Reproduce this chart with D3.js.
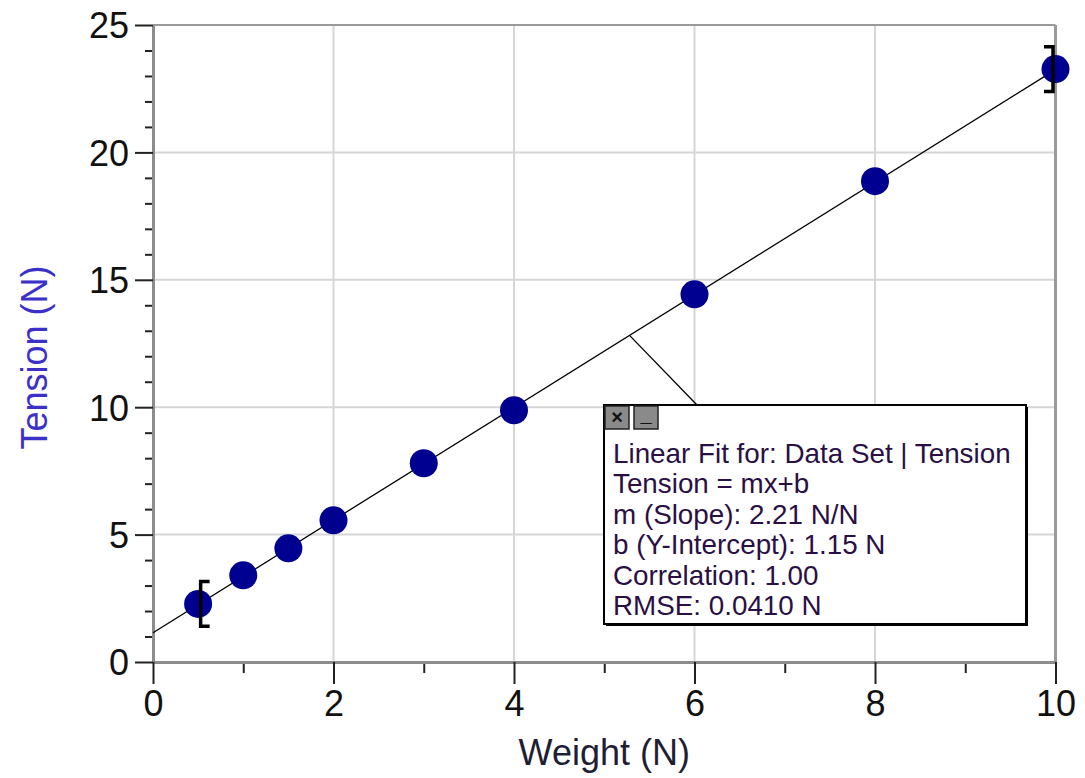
<!DOCTYPE html>
<html>
<head>
<meta charset="utf-8">
<script src="https://cdn.jsdelivr.net/npm/d3@7"></script>
<style>
	body { margin: 0; background: #fff; }
	text { font-family: "Liberation Sans", Arial, sans-serif; }
</style>
</head>
<body>
<script>

let width = 1085;
let height = 778;

let margins = {
	top: 25,
	right: 29,
	bottom: 116,
	left: 153
};

// data
let weights = [0.5, 1, 1.5, 2, 3, 4, 6, 8, 10];
let tensions = [2.28, 3.40, 4.46, 5.56, 7.80, 9.88, 14.43, 18.87, 23.27];
let errorPoints = [0, 8];
let errorSize = 0.88;

let fitSlope = 2.21;
let fitIntercept = 1.15;
let fitAnchorX = 5.28;

let xTicks = [0, 2, 4, 6, 8, 10];
let xMinor = [1, 3, 5, 7, 9];
let yTicks = [0, 5, 10, 15, 20, 25];
let yMinor = [1, 2, 3, 4, 6, 7, 8, 9, 11, 12, 13, 14, 16, 17, 18, 19, 21, 22, 23, 24];

let fitText = [
	"Linear Fit for: Data Set | Tension",
	"Tension = mx+b",
	"m (Slope): 2.21 N/N",
	"b (Y-Intercept): 1.15 N",
	"Correlation: 1.00",
	"RMSE: 0.0410 N"
];

let xScale = d3.scaleLinear()
	.range([margins.left, width - margins.right - 0.5])
	.domain([0, 10]);

let yScale = d3.scaleLinear()
	.range([height - margins.bottom, margins.top])
	.domain([0, 25]);

let svg = d3.select("body")
	.append("svg")
		.attr("width", width)
		.attr("height", height);

let x0 = xScale(0), x1 = xScale(10);
let y0 = yScale(0), y1 = yScale(25);

// grid
svg.append("g")
	.selectAll("line")
	.data(xTicks.slice(1, -1))
	.enter().append("line")
		.attr("x1", d => xScale(d)).attr("x2", d => xScale(d))
		.attr("y1", y1).attr("y2", y0)
		.style("stroke", "#d6d6d6").style("stroke-width", 2);

svg.append("g")
	.selectAll("line")
	.data(yTicks.slice(1, -1))
	.enter().append("line")
		.attr("x1", x0).attr("x2", x1)
		.attr("y1", d => yScale(d)).attr("y2", d => yScale(d))
		.style("stroke", "#d6d6d6").style("stroke-width", 2);

// frame top and right
svg.append("line")
	.attr("x1", x0).attr("x2", x1).attr("y1", y1).attr("y2", y1)
	.style("stroke", "#9a9a9a").style("stroke-width", 2);
svg.append("line")
	.attr("x1", x1).attr("x2", x1).attr("y1", y1).attr("y2", y0)
	.style("stroke", "#9a9a9a").style("stroke-width", 3);

// minor ticks
svg.append("g")
	.attr("transform", "translate(" + x0 + ",0)")
	.call(d3.axisLeft(yScale).tickValues(yMinor).tickSize(8).tickFormat(""))
	.call(g => g.select(".domain").remove())
	.selectAll("line").style("stroke", "#222").style("stroke-width", 2);

svg.append("g")
	.attr("transform", "translate(0," + y0 + ")")
	.call(d3.axisBottom(xScale).tickValues(xMinor).tickSize(11).tickFormat(""))
	.call(g => g.select(".domain").remove())
	.selectAll("line").style("stroke", "#222").style("stroke-width", 2);

// major axes
let yAxis = svg.append("g")
	.attr("transform", "translate(" + x0 + ",0)")
	.call(d3.axisLeft(yScale).tickValues(yTicks).tickSize(18).tickPadding(6).tickSizeOuter(0));

let xAxis = svg.append("g")
	.attr("transform", "translate(0," + y0 + ")")
	.call(d3.axisBottom(xScale).tickValues(xTicks).tickSize(22).tickPadding(6).tickSizeOuter(0));

[xAxis, yAxis].forEach(g => {
	g.select(".domain").style("stroke", "#8c8c8c").style("stroke-width", 3);
	g.selectAll(".tick line").style("stroke", "#222").style("stroke-width", 2);
	g.selectAll(".tick text")
		.style("font-size", "36px")
		.style("fill", "#111");
});
yAxis.selectAll(".tick text").attr("dy", "0.36em");
xAxis.selectAll(".tick text").attr("dy", "0.72em");

// axis labels
svg.append("text")
	.attr("x", (x0 + x1) / 2)
	.attr("y", 765)
	.attr("text-anchor", "middle")
	.style("font-size", "36px")
	.style("fill", "#1e1e34")
	.text("Weight (N)");

svg.append("text")
	.attr("transform", "translate(47," + ((y0 + y1) / 2 + 14) + ") rotate(-90)")
	.attr("text-anchor", "middle")
	.style("font-size", "36px")
	.style("fill", "#3b30c8")
	.text("Tension (N)");

// fit line
svg.append("line")
	.attr("x1", xScale(0)).attr("y1", yScale(fitIntercept))
	.attr("x2", xScale(10)).attr("y2", yScale(fitIntercept + fitSlope * 10))
	.style("stroke", "#000").style("stroke-width", 1.3);

// data points
let pts = weights.map((w, i) => ({ x: w, y: tensions[i] }));

svg.append("g")
	.selectAll("circle")
	.data(pts)
	.enter().append("circle")
		.attr("cx", d => xScale(d.x))
		.attr("cy", d => yScale(d.y))
		.attr("r", 14)
		.style("fill", "#000090");

// error brackets on first and last point
svg.append("g")
	.selectAll("path")
	.data(errorPoints)
	.enter().append("path")
		.attr("d", i => {
			let d = pts[i];
			let side = i === 0 ? 1 : -1;
			let px = xScale(d.x) + side * 2.5;
			let top = yScale(d.y + errorSize), bot = yScale(d.y - errorSize);
			return "M" + (px + side * 9) + "," + top + "H" + px + "V" + bot + "H" + (px + side * 9);
		})
		.style("fill", "none")
		.style("stroke", "#000")
		.style("stroke-width", 3.5);

// annotation box
let box = { x: 604, y: 405, w: 422, h: 219 };

svg.append("line")
	.attr("x1", xScale(fitAnchorX))
	.attr("y1", yScale(fitIntercept + fitSlope * fitAnchorX))
	.attr("x2", 697).attr("y2", box.y)
	.style("stroke", "#000").style("stroke-width", 1.3);

svg.append("rect")
	.attr("x", box.x + 2).attr("y", box.y + 2)
	.attr("width", box.w).attr("height", box.h)
	.style("fill", "#000");

svg.append("rect")
	.attr("x", box.x).attr("y", box.y)
	.attr("width", box.w).attr("height", box.h)
	.style("fill", "#fff")
	.style("stroke", "#000")
	.style("stroke-width", 2);

// little buttons
let buttons = [{ x: box.x + 1, label: "×" }, { x: box.x + 30, label: "_" }];
let btn = svg.append("g")
	.selectAll("g")
	.data(buttons)
	.enter().append("g")
		.attr("transform", d => "translate(" + d.x + "," + (box.y + 1) + ")");

btn.append("rect")
	.attr("width", 24).attr("height", 23)
	.style("fill", "#8a8a8a")
	.style("stroke", "#222").style("stroke-width", 1.5);
btn.append("text")
	.attr("x", 12).attr("y", d => d.label === "_" ? 15 : 18)
	.attr("text-anchor", "middle")
	.style("font-size", "20px")
	.style("font-weight", "bold")
	.style("fill", "#111")
	.text(d => d.label);

svg.append("g")
	.selectAll("text")
	.data(fitText)
	.enter().append("text")
		.attr("x", 613)
		.attr("y", (d, i) => 463 + i * 30.4)
		.style("font-size", "27.8px")
		.style("fill", "#2a0f45")
		.text(d => d);

</script>
</body>
</html>
